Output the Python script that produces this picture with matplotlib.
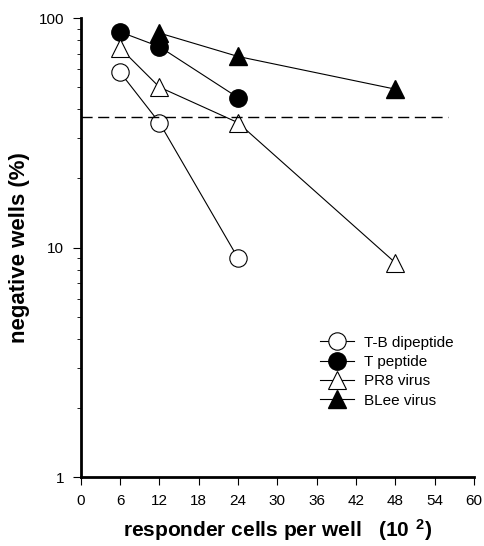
import matplotlib
matplotlib.use("Agg")
import matplotlib.pyplot as plt
from matplotlib.ticker import LogLocator, NullFormatter, FixedLocator, FixedFormatter

plt.rcParams["font.family"] = ["Liberation Sans", "DejaVu Sans"]

# negative wells (%) vs responder cells per well (x 10^2)
tb_x = [6, 12, 24]
tb_y = [58, 35, 9]
tpep_x = [6, 12, 24]
tpep_y = [87, 75, 45]
pr8_x = [6, 12, 24, 48]
pr8_y = [74, 50, 35, 8.6]
blee_x = [12, 24, 48]
blee_y = [86, 68, 49]
cutoff = 37  # 1/e line

fig = plt.figure(figsize=(4.84, 5.46), dpi=100)
ax = fig.add_axes([0.167, 0.126, 0.812, 0.841])

lw = 0.8
ax.plot(tb_x, tb_y, "-o", color="black", lw=lw, ms=12.5, mfc="white", mec="black", mew=0.8, label="T-B dipeptide")
ax.plot(tpep_x, tpep_y, "-o", color="black", lw=lw, ms=12.5, mfc="black", label="T peptide")
ax.plot(pr8_x, pr8_y, "-^", color="black", lw=lw, ms=12.5, mfc="white", mec="black", mew=0.8, label="PR8 virus")
ax.plot(blee_x, blee_y, "-^", color="black", lw=lw, ms=12.5, mfc="black", label="BLee virus")
ax.plot([0, 56], [cutoff, cutoff], color="black", lw=1.0, dashes=(8, 4))

ax.set_yscale("log")
ax.set_ylim(1, 100)
ax.set_xlim(0, 60)
ax.xaxis.set_major_locator(FixedLocator(range(0, 61, 6)))
ax.yaxis.set_major_locator(FixedLocator([1, 10, 100]))
ax.yaxis.set_major_formatter(FixedFormatter(["1", "10", "100"]))
ax.yaxis.set_minor_locator(LogLocator(base=10, subs=range(2, 10)))
ax.yaxis.set_minor_formatter(NullFormatter())

for s in ["top", "right"]:
    ax.spines[s].set_visible(False)
for s in ["left", "bottom"]:
    ax.spines[s].set_linewidth(2)
ax.tick_params(axis="both", which="major", direction="out", length=6, width=0.8, labelsize=11, pad=6)
ax.tick_params(axis="y", which="minor", direction="out", length=3, width=0.6)

ax.set_xlabel(r"responder cells per well   (10$\mathregular{\ ^2}$)", fontsize=15, fontweight="bold", labelpad=7)
ax.set_ylabel("negative wells (%)", fontsize=16, fontweight="bold", labelpad=6)

ax.legend(loc="upper left", bbox_to_anchor=(0.661, 0.385), bbox_transform=fig.transFigure,
          frameon=False, fontsize=11, handlelength=2.2, handletextpad=0.7,
          labelspacing=0.35, borderaxespad=0, borderpad=0)

fig.savefig("out.png", dpi=100)
